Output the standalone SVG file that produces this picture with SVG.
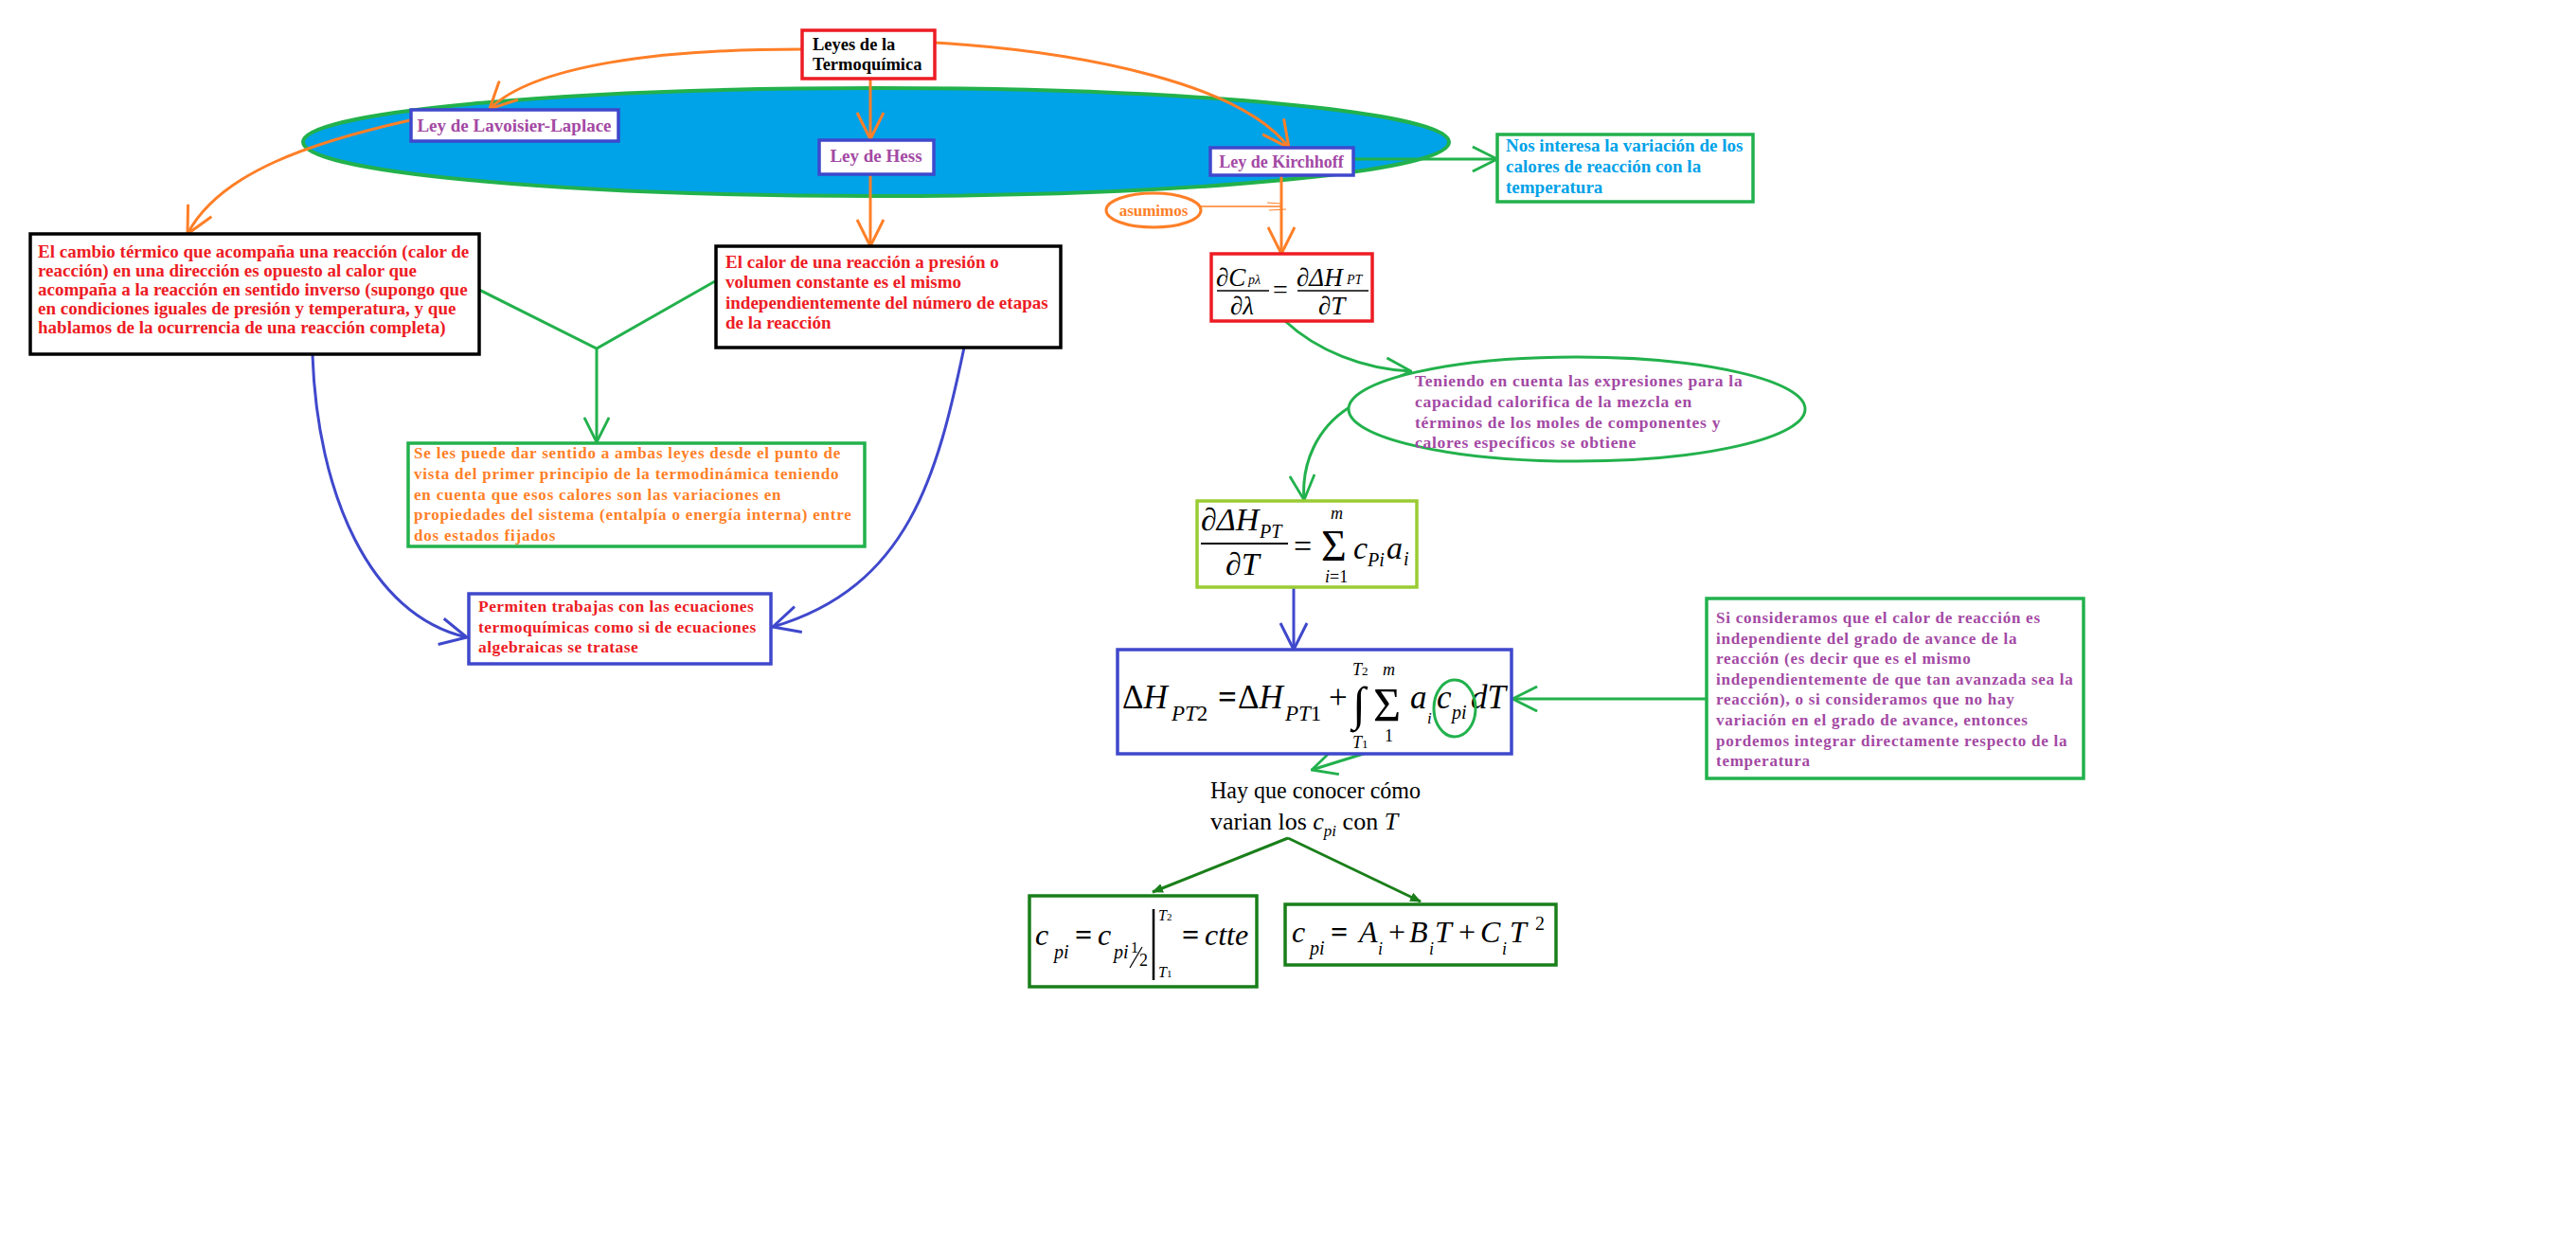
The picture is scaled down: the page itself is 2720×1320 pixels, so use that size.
<svg xmlns="http://www.w3.org/2000/svg" width="2720" height="1320" viewBox="0 0 2720 1320">
<defs>
<style>
.t{font-family:"Liberation Serif","DejaVu Serif",serif;font-weight:bold;}
.red{fill:#ed1c24;}
.pur{fill:#a349a4;}
.org{fill:#ff7f27;}
.sky{fill:#00a2e8;}
.blk{fill:#000;}
.box{fill:#fff;stroke-width:3.5;}
.m{font-family:"Liberation Serif","DejaVu Serif",serif;font-style:italic;fill:#000;}
.u{font-style:normal;}
.c{fill:none;}
.co{stroke:#ff7f27;stroke-width:3;}
.cg{stroke:#22b14c;stroke-width:3;}
.cb{stroke:#3f48cc;stroke-width:3;}
.cd{stroke:#1a7f1a;stroke-width:3;}
</style>
<marker id="ao" viewBox="0 0 30 30" refX="29" refY="15" markerWidth="30" markerHeight="30" markerUnits="userSpaceOnUse" orient="auto"><path d="M1,1 L29,15 L1,29" fill="none" stroke="#ff7f27" stroke-width="3"/></marker>
<marker id="ag" viewBox="0 0 30 30" refX="29" refY="15" markerWidth="28" markerHeight="28" markerUnits="userSpaceOnUse" orient="auto"><path d="M1,1 L29,15 L1,29" fill="none" stroke="#22b14c" stroke-width="3"/></marker>
<marker id="ab" viewBox="0 0 30 30" refX="29" refY="15" markerWidth="30" markerHeight="34" markerUnits="userSpaceOnUse" orient="auto"><path d="M1,1 L29,15 L1,29" fill="none" stroke="#3f48cc" stroke-width="3"/></marker>
<marker id="ad" viewBox="0 0 12 12" refX="11" refY="6" markerWidth="12" markerHeight="12" markerUnits="userSpaceOnUse" orient="auto"><path d="M0,1 L12,6 L0,11 Z" fill="#1a7f1a"/></marker>
</defs>
<rect x="0" y="0" width="2720" height="1320" fill="#fff"/>

<g id="laws-ellipse">
<ellipse cx="925" cy="150" rx="605" ry="57" fill="#00a2e8" stroke="#22b14c" stroke-width="4"/>
</g>

<g id="connectors">
<path class="c co" d="M846,52 C700,52 565,68 517,115" marker-end="url(#ao)"/>
<path class="c co" d="M433,127 C330,150 232,182 198,247" marker-end="url(#ao)"/>
<path class="c co" d="M919,83 L919,147" marker-end="url(#ao)"/>
<path class="c co" d="M919,184 L919,260" marker-end="url(#ao)"/>
<path class="c co" d="M987,45 C1150,55 1312,90 1361,156" marker-end="url(#ao)"/>
<path class="c cg" d="M1429,168 L1581,168" marker-end="url(#ag)"/>
<path class="c co" d="M1353,185 L1353,268" marker-end="url(#ao)"/>
<path class="c" d="M1268,218 L1353,218" stroke="#ff7f27" stroke-width="1.5"/>
<path class="c" d="M1338,214 L1352,215 M1340,222 L1358,221" stroke="#ff7f27" stroke-width="1.2"/>
<path class="c cg" d="M1357,339 C1390,370 1440,390 1490,392" marker-end="url(#ag)"/>
<path class="c cg" d="M1425,430 C1390,452 1374,490 1377,528" marker-end="url(#ag)"/>
<path class="c cb" d="M1366,620 L1366,686" marker-end="url(#ab)"/>
<path class="c cg" d="M1802,738 L1597,738" marker-end="url(#ag)"/>
<path class="c cg" d="M1517,772 L1385,813" marker-end="url(#ag)"/>
<path class="c cd" d="M1360,885 L1217,942" marker-end="url(#ad)"/>
<path class="c cd" d="M1360,885 L1500,952" marker-end="url(#ad)"/>
<path class="c cg" d="M506,306 L630,368 L755,297"/>
<path class="c cg" d="M630,368 L630,467" marker-end="url(#ag)"/>
<path class="c cb" d="M330,375 C335,520 390,650 493,673" marker-end="url(#ab)"/>
<path class="c cb" d="M1018,367 C990,500 960,620 816,662" marker-end="url(#ab)"/>
</g>

<g id="node-leyes">
<rect class="box" x="847" y="32" width="140" height="51" stroke="#ed1c24"/>
<text class="t blk" font-size="18.5"><tspan x="858" y="53">Leyes de la</tspan><tspan x="858" y="74">Termoquímica</tspan></text>
</g>

<g id="node-lavoisier">
<rect class="box" x="434" y="116" width="219" height="33" stroke="#3f48cc"/>
<text class="t pur" x="543" y="139" font-size="19" text-anchor="middle">Ley de Lavoisier-Laplace</text>
</g>

<g id="node-hess">
<rect class="box" x="865" y="148" width="121" height="36" stroke="#3f48cc"/>
<text class="t pur" x="925" y="171" font-size="19" text-anchor="middle">Ley de Hess</text>
</g>

<g id="node-kirchhoff">
<rect class="box" x="1278" y="156" width="151" height="29" stroke="#3f48cc"/>
<text class="t pur" x="1353" y="177" font-size="18" text-anchor="middle">Ley de Kirchhoff</text>
</g>

<g id="node-nos-interesa">
<rect class="box" x="1581" y="142" width="270" height="71" stroke="#22b14c"/>
<text class="t sky" font-size="19"><tspan x="1590" y="160">Nos interesa la variación de los</tspan><tspan x="1590" y="182">calores de reacción con la</tspan><tspan x="1590" y="204">temperatura</tspan></text>
</g>

<g id="node-asumimos">
<ellipse cx="1218" cy="222" rx="50" ry="18" fill="#fff" stroke="#ff7f27" stroke-width="3"/>
<text class="t org" x="1218" y="228" font-size="17" text-anchor="middle">asumimos</text>
</g>

<g id="node-lavoisier-text">
<rect class="box" x="32" y="247" width="474" height="127" stroke="#000" stroke-width="4"/>
<text class="t red" font-size="19"><tspan x="40" y="272">El cambio térmico que acompaña una reacción (calor de</tspan><tspan x="40" y="292">reacción) en una dirección es opuesto al calor que</tspan><tspan x="40" y="312">acompaña a la reacción en sentido inverso (supongo que</tspan><tspan x="40" y="332">en condiciones iguales de presión y temperatura, y que</tspan><tspan x="40" y="352">hablamos de la ocurrencia de una reacción completa)</tspan></text>
</g>

<g id="node-hess-text">
<rect class="box" x="756" y="260" width="364" height="107" stroke="#000" stroke-width="4"/>
<text class="t red" font-size="19"><tspan x="766" y="283">El calor de una reacción a presión o</tspan><tspan x="766" y="304">volumen constante es el mismo</tspan><tspan x="766" y="326">independientemente del número de etapas</tspan><tspan x="766" y="347">de la reacción</tspan></text>
</g>

<g id="node-primer-principio">
<rect class="box" x="431" y="468" width="482" height="109" stroke="#22b14c"/>
<text class="t org" font-size="17" letter-spacing="0.8"><tspan x="437" y="484">Se les puede dar sentido a ambas leyes desde el punto de</tspan><tspan x="437" y="506">vista del primer principio de la termodinámica teniendo</tspan><tspan x="437" y="528">en cuenta que esos calores son las variaciones en</tspan><tspan x="437" y="549">propiedades del sistema (entalpía o energía interna) entre</tspan><tspan x="437" y="571">dos estados fijados</tspan></text>
</g>

<g id="node-permiten">
<rect class="box" x="495" y="627" width="319" height="74" stroke="#3f48cc"/>
<text class="t red" font-size="17.5" letter-spacing="0.45"><tspan x="505" y="646">Permiten trabajas con las ecuaciones</tspan><tspan x="505" y="668">termoquímicas como si de ecuaciones</tspan><tspan x="505" y="689">algebraicas se tratase</tspan></text>
</g>

<g id="node-kirchhoff-eq">
<rect class="box" x="1279" y="268" width="170" height="71" stroke="#ed1c24"/>
<text class="m" font-size="27" x="1284" y="302">∂C</text>
<text class="m" font-size="14" x="1318" y="300">pλ</text>
<line x1="1285" y1="307" x2="1340" y2="307" stroke="#000" stroke-width="1.5"/>
<text class="m" font-size="27" x="1299" y="332">∂λ</text>
<text class="m u" font-size="28" x="1344" y="315">=</text>
<text class="m" font-size="27" x="1369" y="302">∂ΔH</text>
<text class="m" font-size="14" x="1422" y="300">PT</text>
<line x1="1370" y1="307" x2="1445" y2="307" stroke="#000" stroke-width="1.5"/>
<text class="m" font-size="27" x="1392" y="332">∂T</text>
</g>

<g id="node-teniendo">
<ellipse cx="1665" cy="432" rx="241" ry="55" fill="#fff" stroke="#22b14c" stroke-width="3"/>
<text class="t pur" font-size="17.5" letter-spacing="0.7"><tspan x="1494" y="408">Teniendo en cuenta las expresiones para la</tspan><tspan x="1494" y="430">capacidad calorifica de la mezcla en</tspan><tspan x="1494" y="452">términos de los moles de componentes y</tspan><tspan x="1494" y="473">calores específicos se obtiene</tspan></text>
</g>

<g id="node-sum-eq">
<rect class="box" x="1264" y="529" width="232" height="91" stroke="#99cc33"/>
<text class="m" font-size="34" x="1268" y="560">∂ΔH</text>
<text class="m" font-size="20" x="1330" y="568">PT</text>
<line x1="1268" y1="574" x2="1360" y2="574" stroke="#000" stroke-width="2"/>
<text class="m" font-size="34" x="1294" y="607">∂T</text>
<text class="m u" font-size="34" x="1366" y="588">=</text>
<text class="m u" font-size="46" x="1395" y="592">Σ</text>
<text class="m" font-size="18" x="1405" y="548">m</text>
<text class="m" font-size="18" x="1399" y="615">i<tspan class="u">=1</tspan></text>
<text class="m" font-size="34" x="1429" y="590">c</text>
<text class="m" font-size="20" x="1444" y="598">Pi</text>
<text class="m" font-size="34" x="1464" y="590">a</text>
<text class="m" font-size="20" x="1482" y="597">i</text>
</g>

<g id="node-integral-eq">
<rect class="box" x="1180" y="686" width="416" height="110" stroke="#3f48cc"/>
<text class="m" font-size="35" x="1185" y="748"><tspan class="u">Δ</tspan>H</text>
<text class="m" font-size="23" x="1237" y="761">PT<tspan class="u">2</tspan></text>
<text class="m u" font-size="35" x="1286" y="748" font-weight="bold">=</text>
<text class="m" font-size="35" x="1307" y="748"><tspan class="u">Δ</tspan>H</text>
<text class="m" font-size="23" x="1357" y="761">PT<tspan class="u">1</tspan></text>
<text class="m u" font-size="35" x="1403" y="748">+</text>
<text class="m u" font-size="50" x="1428" y="760">∫</text>
<text class="m" font-size="18" x="1428" y="713">T<tspan class="u" font-size="13">2</tspan></text>
<text class="m" font-size="18" x="1428" y="790">T<tspan class="u" font-size="13">1</tspan></text>
<text class="m u" font-size="50" x="1450" y="761">Σ</text>
<text class="m" font-size="18" x="1460" y="713">m</text>
<text class="m u" font-size="18" x="1462" y="783">1</text>
<text class="m" font-size="35" x="1489" y="748">a</text>
<text class="m" font-size="17" x="1507" y="764">i</text>
<text class="m" font-size="35" x="1517" y="748">c</text>
<text class="m" font-size="20" x="1533" y="759">pi</text>
<text class="m" font-size="35" x="1553" y="748">dT</text>
<ellipse cx="1536" cy="748" rx="22" ry="30" fill="none" stroke="#22b14c" stroke-width="3"/>
</g>

<g id="node-si-consideramos">
<rect class="box" x="1802" y="632" width="398" height="190" stroke="#22b14c"/>
<text class="t pur" font-size="17" letter-spacing="0.75"><tspan x="1812" y="658">Si consideramos que el calor de reacción es</tspan><tspan x="1812" y="680">independiente del grado de avance de la</tspan><tspan x="1812" y="701">reacción (es decir que es el mismo</tspan><tspan x="1812" y="723">independientemente de que tan avanzada sea la</tspan><tspan x="1812" y="744">reacción), o si consideramos que no hay</tspan><tspan x="1812" y="766">variación en el grado de avance, entonces</tspan><tspan x="1812" y="788">pordemos integrar directamente respecto de la</tspan><tspan x="1812" y="809">temperatura</tspan></text>
</g>

<g id="node-hay-que-conocer">
<text font-family="Liberation Serif, serif" font-size="26" fill="#000"><tspan x="1278" y="843" textLength="222" lengthAdjust="spacingAndGlyphs">Hay que conocer cómo</tspan><tspan x="1278" y="876">varian los </tspan><tspan font-style="italic">c</tspan><tspan font-style="italic" font-size="17" dy="7">pi</tspan><tspan dy="-7"> con </tspan><tspan font-style="italic">T</tspan></text>
</g>

<g id="node-cpi-const">
<rect class="box" x="1087" y="946" width="240" height="96" stroke="#1a7f1a" stroke-width="4"/>
<text class="m" font-size="32" x="1093" y="998">c</text>
<text class="m" font-size="20" x="1113" y="1012">pi</text>
<text class="m u" font-size="32" x="1135" y="998" font-weight="bold">=</text>
<text class="m" font-size="32" x="1159" y="998">c</text>
<text class="m" font-size="20" x="1176" y="1012">pi</text>
<text class="m u" font-size="16" x="1194" y="1006">1</text>
<line x1="1193" y1="1022" x2="1206" y2="1000" stroke="#000" stroke-width="1.2"/>
<text class="m u" font-size="18" x="1203" y="1020">2</text>
<line x1="1218" y1="960" x2="1218" y2="1035" stroke="#000" stroke-width="2.5"/>
<text class="m" font-size="16" x="1223" y="972">T<tspan class="u" font-size="11">2</tspan></text>
<text class="m" font-size="16" x="1223" y="1032">T<tspan class="u" font-size="11">1</tspan></text>
<text class="m u" font-size="32" x="1248" y="998" font-weight="bold">=</text>
<text class="m" font-size="32" x="1272" y="998">ctte</text>
</g>

<g id="node-cpi-poly">
<rect class="box" x="1357" y="955" width="286" height="64" stroke="#1a7f1a" stroke-width="4"/>
<text class="m" font-size="32" x="1364" y="995">c</text>
<text class="m" font-size="20" x="1383" y="1008">pi</text>
<text class="m u" font-size="32" x="1405" y="995" font-weight="bold">=</text>
<text class="m" font-size="32" x="1435" y="995">A</text>
<text class="m" font-size="18" x="1455" y="1008">i</text>
<text class="m u" font-size="32" x="1466" y="995">+</text>
<text class="m" font-size="32" x="1488" y="995">B</text>
<text class="m" font-size="18" x="1509" y="1008">i</text>
<text class="m" font-size="32" x="1515" y="995">T</text>
<text class="m u" font-size="32" x="1540" y="995">+</text>
<text class="m" font-size="32" x="1563" y="995">C</text>
<text class="m" font-size="18" x="1586" y="1008">i</text>
<text class="m" font-size="32" x="1594" y="995">T</text>
<text class="m u" font-size="20" x="1621" y="982">2</text>
</g>
</svg>
